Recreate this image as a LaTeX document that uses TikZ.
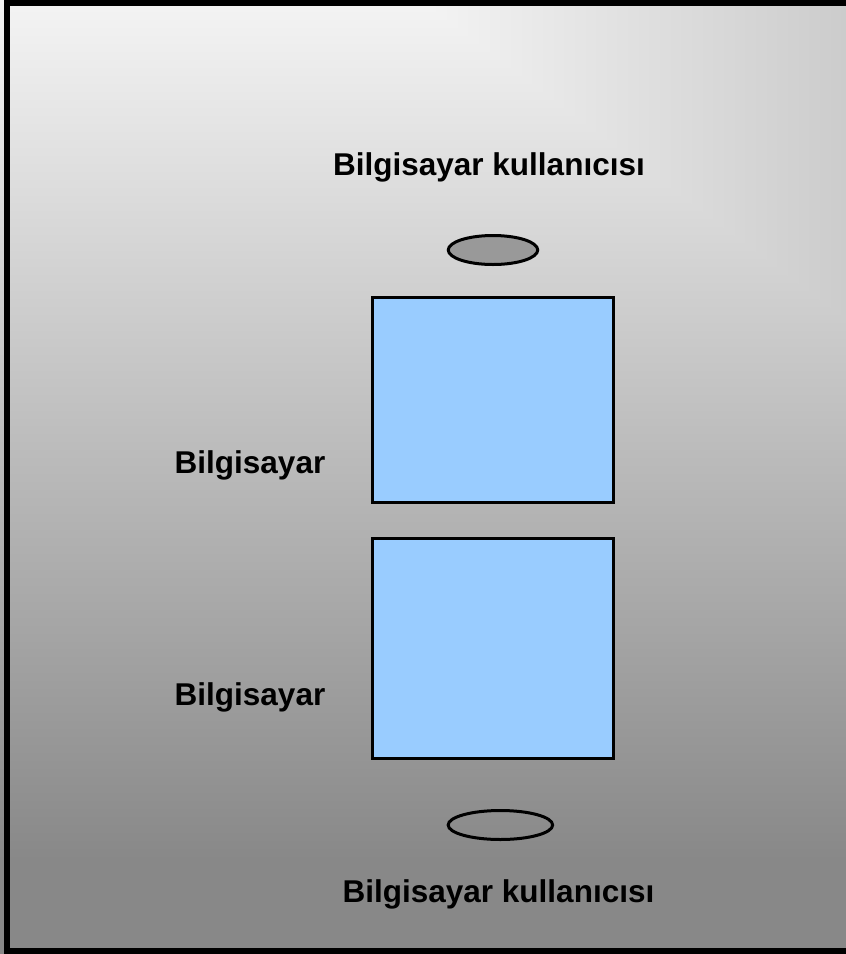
\documentclass[tikz,border=0pt]{standalone}
\usepackage{fontspec}
\setmainfont{Liberation Sans}
\usetikzlibrary{shapes.geometric}
\definecolor{bgtop}{RGB}{244,244,244}
\definecolor{bgbot}{RGB}{136,136,136}
\definecolor{bgright}{RGB}{204,204,204}
\definecolor{boxblue}{RGB}{153,204,255}
\definecolor{ellgray}{RGB}{153,153,153}
\tikzset{
  lbl/.style={inner sep=0pt, font=\fontsize{31.5}{38}\selectfont\bfseries, text=black},
  box/.style={draw=black, line width=2.5pt, fill=boxblue, rectangle, inner sep=0pt},
  ell/.style={draw=black, line width=3pt, ellipse, inner sep=0pt},
}
\begin{document}
\begin{tikzpicture}[x=1pt,y=-1pt]
\useasboundingbox (0,0) rectangle (846,954);
\clip (0,0) rectangle (846,954);
% background
\shade[top color=bgtop, bottom color=bgbot] (0,0) rectangle (846,860);
\fill[bgbot] (0,859) rectangle (846,954);
\shade[left color=bgtop, right color=bgright] (420,0) -- (846,0) -- (846,320) -- cycle;
% frame (right side lies beyond the picture)
\draw[line width=6pt] (7,3) rectangle (880,951);
% texts
\node[lbl, anchor=base] (t1) at (489,175) {Bilgisayar kullanıcısı};
\node[lbl, anchor=base] (t2) at (498.5,902) {Bilgisayar kullanıcısı};
\node[lbl, anchor=base west] (l1) at (174.5,473) {Bilgisayar};
\node[lbl, anchor=base west] (l2) at (174.5,705) {Bilgisayar};
% shapes
\node[ell, fill=ellgray, minimum width=89.5pt, minimum height=29pt] (e1) at (493,250) {};
\node[box, minimum width=241pt, minimum height=205pt] (b1) at (493,400) {};
\node[box, minimum width=241pt, minimum height=220pt] (b2) at (493,648.6) {};
\node[ell, minimum width=104.5pt, minimum height=29pt] (e2) at (500.4,825) {};
\end{tikzpicture}
\end{document}
